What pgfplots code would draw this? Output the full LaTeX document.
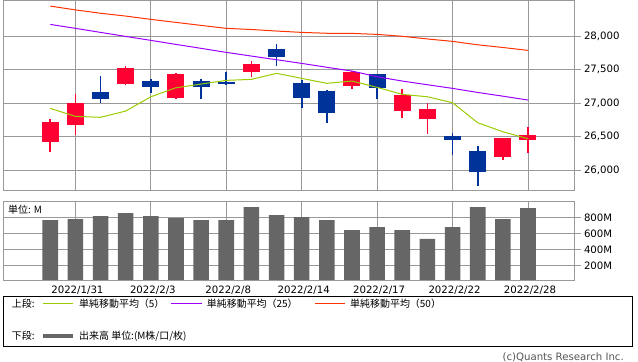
\documentclass[border=0pt]{standalone}
\usepackage{fontspec}
\setmainfont{DejaVu Sans}
\newfontfamily\cjk{Noto Sans CJK JP}
\usepackage{pgfplots}
\usepackage{pgfplotstable}
\pgfplotsset{compat=1.18}
\definecolor{upred}{HTML}{FF0033}
\definecolor{dnblue}{HTML}{003399}
\definecolor{maA}{HTML}{99CC00}
\definecolor{maB}{HTML}{9900FF}
\definecolor{maC}{HTML}{FF3300}
\definecolor{gridg}{HTML}{999999}
\definecolor{volg}{HTML}{666666}
\definecolor{copyg}{HTML}{555555}

% up candles: index open high low close
\pgfplotstableread{
i o h l c
0 26426 26764 26277 26719
1 26680 27136 26526 27002
3 27285 27553 27270 27524
5 27077 27449 27062 27434
8 27464 27628 27389 27583
12 27255 27479 27211 27464
14 26888 27211 26779 27117
15 26769 26998 26541 26913
18 26203 26486 26154 26486
19 26456 26645 26258 26526
}\upT

% down candles
\pgfplotstableread{
i o h l c
2 27166 27404 27002 27070
4 27330 27360 27151 27236
6 27330 27360 27062 27240
7 27315 27464 27270 27280
9 27806 27881 27553 27690
10 27300 27345 26928 27075
11 27181 27196 26705 26860
13 27434 27434 27062 27225
16 26511 26551 26228 26445
17 26288 26362 25771 25968
}\dnT

\pgfplotstableread{
i ma5 ma25 ma50
0 26923 28174 28447
1 26804 28115 28390
2 26790 28055 28340
3 26883 27995 28298
4 27096 27936 28249
5 27230 27876 28204
6 27285 27817 28159
7 27340 27757 28115
8 27355 27702 28098
9 27445 27648 28075
10 27370 27593 28055
11 27296 27535 28042
12 27330 27479 28040
13 27236 27394 28025
14 27132 27330 27997
15 27096 27275 27957
16 27007 27221 27921
17 26709 27160 27870
18 26575 27105 27830
19 26471 27047 27787
}\maT

\pgfplotstableread{
i v
0 771
1 784
2 821
3 859
4 821
5 796
6 771
7 771
8 934
9 834
10 809
11 771
12 646
13 684
14 646
15 534
16 684
17 934
18 784
19 921
}\volT

\pgfplotsset{
  panel/.style={
    scale only axis,
    anchor=north west,
    width=571.5bp,
    xmin=-1.88, xmax=20.85,
    xtick={1,4,7,10,13,16,19},
    ytick pos=right, yticklabel pos=right,
    tick align=outside, major tick length=6bp,
    axis line style={draw=gridg, line width=0.9bp},
    grid=major, grid style={draw=gridg, line width=0.9bp},
    tick style={draw=gridg, line width=0.9bp},
    xtick style={draw=none},
    scaled y ticks=false,
    /pgf/number format/assume math mode=true,
    /pgf/number format/1000 sep={,},
  },
}

\begin{document}
\begin{tikzpicture}[font=\fontsize{10.2}{12}\selectfont]
\path[use as bounding box] (0,0) rectangle (638bp,-362bp);

\begin{axis}[panel, at={(3bp,-0.5bp)}, height=189.5bp,
  ymin=25707, ymax=28530,
  xticklabels={},
  ytick={26000,26500,27000,27500,28000},
]
% wicks
\addplot[draw=none, mark=none, forget plot,
  error bars/.cd, y dir=plus, y explicit, error mark=none,
  error bar style={draw=upred, line width=1.6bp}]
  table[x=i, y=l, y error plus expr=\thisrow{h}-\thisrow{l}] {\upT};
\addplot[draw=none, mark=none, forget plot,
  error bars/.cd, y dir=plus, y explicit, error mark=none,
  error bar style={draw=dnblue, line width=1.6bp}]
  table[x=i, y=l, y error plus expr=\thisrow{h}-\thisrow{l}] {\dnT};
% bodies
\addplot[draw=none, mark=none, forget plot,
  error bars/.cd, y dir=plus, y explicit, error mark=none,
  error bar style={draw=upred, line width=17bp}]
  table[x=i, y=o, y error plus expr=\thisrow{c}-\thisrow{o}] {\upT};
\addplot[draw=none, mark=none, forget plot,
  error bars/.cd, y dir=plus, y explicit, error mark=none,
  error bar style={draw=dnblue, line width=17bp}]
  table[x=i, y=c, y error plus expr=\thisrow{o}-\thisrow{c}] {\dnT};
% moving averages
\addplot[maC, line width=1bp, mark=none] table[x=i, y=ma50] {\maT};
\addplot[maB, line width=1bp, mark=none] table[x=i, y=ma25] {\maT};
\addplot[maA, line width=1bp, mark=none] table[x=i, y=ma5] {\maT};
\end{axis}

\begin{axis}[panel, at={(3bp,-201bp)}, height=79bp,
  ymin=20, ymax=1010,
  xticklabels={2022/1/31,2022/2/3,2022/2/8,2022/2/14,2022/2/17,2022/2/22,2022/2/28},
  xticklabel style={xshift=2bp, yshift=4bp},
  ytick={200,400,600,800},
  yticklabel={\pgfmathprintnumber{\tick}M},
]
\addplot[ybar, bar width=0.62, fill=volg, draw=none] table[x=i, y=v] {\volT};
\end{axis}

\node[anchor=west, inner sep=0, font=\cjk\fontsize{10}{12}\selectfont] at (8bp,-209.5bp) {単位: M};

% legend box
\draw[black, line width=0.9bp] (3.3bp,-296bp) rectangle (632.3bp,-346bp);
\begin{scope}[every node/.style={anchor=west, inner sep=0, font=\cjk\fontsize{10}{12}\selectfont}]
\node at (11.7bp,-303.3bp) {上段:};
\draw[maA, line width=1bp] (43.3bp,-303.3bp) -- (73.3bp,-303.3bp);
\node at (79bp,-303.3bp) {単純移動平均（5）};
\draw[maB, line width=1bp] (171bp,-303.3bp) -- (201.7bp,-303.3bp);
\node at (206.7bp,-303.3bp) {単純移動平均（25）};
\draw[maC, line width=1bp] (315bp,-303.3bp) -- (345bp,-303.3bp);
\node at (350bp,-303.3bp) {単純移動平均（50）};
\node at (11.7bp,-336bp) {下段:};
\draw[volg, line width=3.5bp] (43.3bp,-336bp) -- (73.3bp,-336bp);
\node at (79bp,-336bp) {出来高 単位:(M株/口/枚)};
\end{scope}

\node[anchor=east, inner sep=0, text=copyg] at (624bp,-357.5bp) {(c)Quants Research Inc.};
\end{tikzpicture}
\end{document}
